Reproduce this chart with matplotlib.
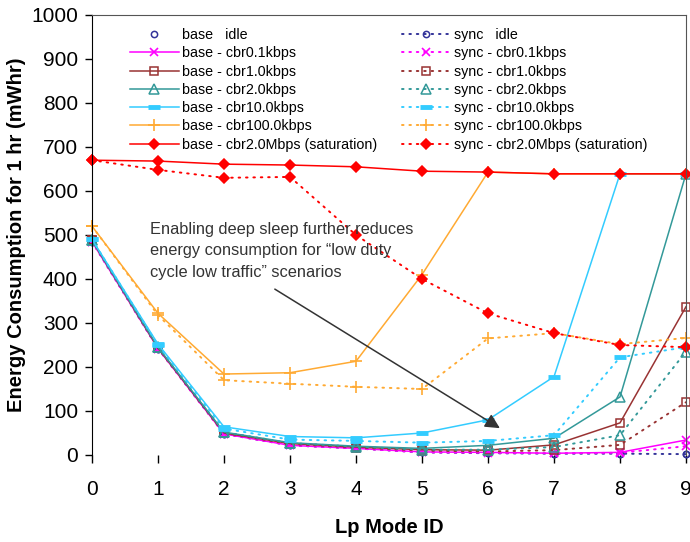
import matplotlib
matplotlib.use("Agg")
import matplotlib.pyplot as plt

# Lp mode ids on the x axis
modes = [0, 1, 2, 3, 4, 5, 6, 7, 8, 9]

# energy for 1 hr (mWhr)
base_idle = [485, 242, 48, 22, 15, 6, 4, 3, 3, 2]
sync_idle = [485, 242, 48, 22, 15, 6, 4, 3, 3, 2]
base_cbr01 = [485, 242, 48, 22, 15, 7, 6, 4, 6, 34]
sync_cbr01 = [485, 242, 48, 22, 15, 6, 5, 4, 5, 20]
base_cbr1 = [488, 243, 50, 26, 18, 12, 11, 23, 73, 337]
sync_cbr1 = [488, 243, 50, 25, 17, 10, 8, 11, 23, 120]
base_cbr2 = [488, 245, 52, 28, 20, 15, 22, 38, 132, 639]
sync_cbr2 = [488, 245, 52, 27, 19, 12, 12, 18, 45, 235]
base_cbr10 = [490, 252, 64, 42, 39, 50, 80, 178, 639, 639]
sync_cbr10 = [490, 250, 60, 35, 32, 28, 32, 45, 222, 245]
base_cbr100 = [520, 322, 184, 187, 213, 410, 643, 639, 639, 639]
sync_cbr100 = [520, 318, 170, 162, 155, 150, 265, 277, 252, 266]
base_sat = [670, 668, 661, 659, 655, 645, 643, 639, 639, 639]
sync_sat = [670, 648, 630, 632, 500, 400, 322, 277, 250, 245]

labels = ["idle", "cbr0.1kbps", "cbr1.0kbps", "cbr2.0kbps", "cbr10.0kbps",
          "cbr100.0kbps", "cbr2.0Mbps (saturation)"]

BASE = [base_idle, base_cbr01, base_cbr1, base_cbr2, base_cbr10, base_cbr100, base_sat]
SYNC = [sync_idle, sync_cbr01, sync_cbr1, sync_cbr2, sync_cbr10, sync_cbr100, sync_sat]

# colour, marker, size, filled
STYLE = [("#333399", "o", 4.5, False),
         ("#ff00ff", "x", 6, True),
         ("#993333", "s", 5.5, False),
         ("#339999", "^", 6.5, False),
         ("#33ccff", "_", 8, True),
         ("#ffaa33", "+", 9, True),
         ("#ff0000", "D", 5.5, True)]

plt.rcParams["font.family"] = ["Liberation Sans", "DejaVu Sans"]

fig = plt.figure(figsize=(6.9, 5.42), dpi=100)
ax = fig.add_axes([92 / 690, 1 - 455 / 542, 594 / 690, 440 / 542])


def kw(i, ls):
    c, m, s, filled = STYLE[i]
    d = dict(color=c, marker=m, ms=s, ls=ls, clip_on=False,
             mfc=c if filled else "none", mec=c)
    if m == "_":
        d["mew"] = 3.5
    elif m in "x+":
        d["mew"] = 1.2
    else:
        d["mew"] = 1.1
    return d


handles_b, handles_s = [], []
for i in range(len(labels)):
    ls_b = "none" if i == 0 else "-"
    hb, = ax.plot(modes, BASE[i], lw=1.1, **kw(i, ls_b))
    hs, = ax.plot(modes, SYNC[i], lw=1.4, **kw(i, (0, (0.8, 3))))
    hs.set_dash_capstyle("round")
    handles_b.append(hb)
    handles_s.append(hs)

names_b = ["base   idle"] + ["base - " + l for l in labels[1:]]
names_s = ["sync   idle"] + ["sync - " + l for l in labels[1:]]
ax.legend(handles_b + handles_s, names_b + names_s, ncol=2, frameon=False,
          loc="upper left", bbox_to_anchor=(130 / 690, 1 - 28 / 542),
          bbox_transform=fig.transFigure, borderaxespad=0, borderpad=0,
          fontsize=10.3, handlelength=3.4, handletextpad=0.25,
          columnspacing=1.7, labelspacing=0.3)

# the note and its arrow
ax.annotate("", xy=(6.18, 61), xytext=(2.77, 377),
            arrowprops=dict(arrowstyle="-|>", color="#333333", lw=1.1,
                            mutation_scale=22, shrinkA=0, shrinkB=0))
ax.text(0.88, 464, "Enabling deep sleep further reduces\n"
        "energy consumption for \u201clow duty\n"
        "cycle low traffic\u201d scenarios",
        fontsize=11.8, color="#333333", va="center", ha="left", linespacing=1.55)

ax.set_xlim(0, 9)
ax.set_ylim(0, 1000)
ax.set_xticks(modes)
ax.set_yticks(range(0, 1001, 100))
ax.tick_params(axis="y", direction="out", length=5, width=1, pad=5, labelsize=15)
ax.tick_params(axis="x", direction="out", length=6, width=1, pad=12, labelsize=15)
ax.spines["bottom"].set_visible(False)
ax.spines["left"].set_color("black")
for s in ("top", "right"):
    ax.spines[s].set_color("#555555")

ax.set_xlabel("Lp Mode ID", fontsize=14.5, fontweight="bold", labelpad=14)
ax.set_ylabel("Energy Consumption for 1 hr (mWhr)", fontsize=14.5,
              fontweight="bold", labelpad=4)

plt.savefig("out.png", dpi=100)
